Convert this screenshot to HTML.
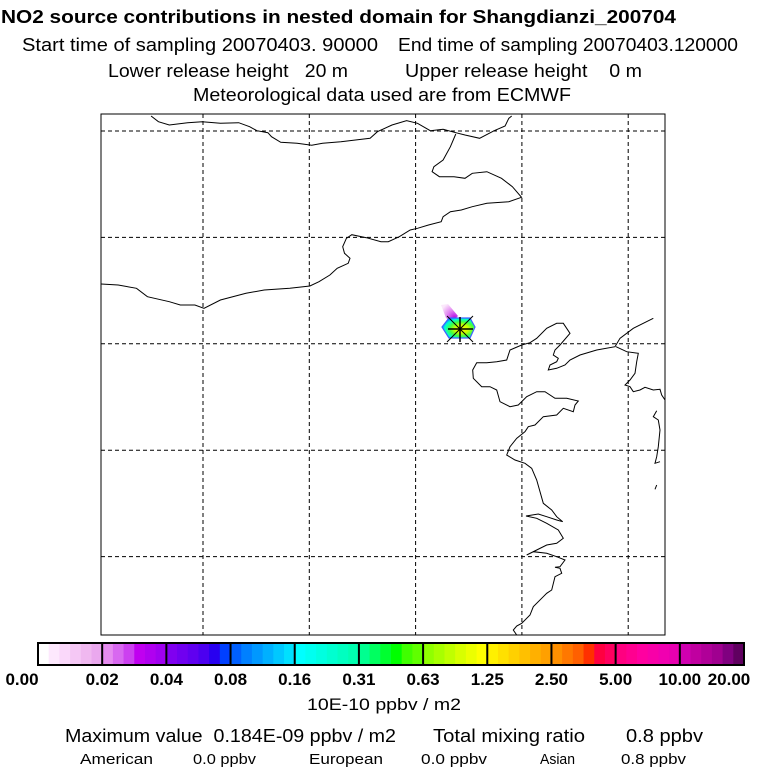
<!DOCTYPE html>
<html><head><meta charset="utf-8"><style>
html,body{margin:0;padding:0;background:#fff;}
svg{display:block;font-family:"Liberation Sans",Arial,sans-serif;}
</style></head><body>
<svg id="chart" width="768" height="768" viewBox="0 0 768 768" xmlns="http://www.w3.org/2000/svg">
<g font-size="18">
<text x="1" y="23" font-weight="bold" textLength="675" lengthAdjust="spacingAndGlyphs">NO2 source contributions in nested domain for Shangdianzi_200704</text>
<text x="22" y="51" textLength="356" lengthAdjust="spacingAndGlyphs">Start time of sampling 20070403. 90000</text>
<text x="398" y="51" textLength="340" lengthAdjust="spacingAndGlyphs">End time of sampling 20070403.120000</text>
<text x="108" y="77" textLength="240" lengthAdjust="spacingAndGlyphs">Lower release height&#160;&#160; 20 m</text>
<text x="405" y="77" textLength="237" lengthAdjust="spacingAndGlyphs">Upper release height&#160;&#160;&#160; 0 m</text>
<text x="193" y="101" textLength="378" lengthAdjust="spacingAndGlyphs">Meteorological data used are from ECMWF</text>
</g>
<g id="map"></g>
<g id="cbar"></g>
<text x="307" y="710" font-size="17" textLength="154" lengthAdjust="spacingAndGlyphs">10E-10 ppbv / m2</text>
<g font-size="18">
<text x="65" y="742" textLength="331" lengthAdjust="spacingAndGlyphs">Maximum value&#160; 0.184E-09 ppbv / m2</text>
<text x="433" y="742" textLength="152" lengthAdjust="spacingAndGlyphs">Total mixing ratio</text>
<text x="626" y="742" textLength="77" lengthAdjust="spacingAndGlyphs">0.8 ppbv</text>
</g>
<g font-size="15">
<text x="80" y="764" textLength="73" lengthAdjust="spacingAndGlyphs">American</text>
<text x="193" y="764" textLength="63" lengthAdjust="spacingAndGlyphs">0.0 ppbv</text>
<text x="309" y="764" textLength="74" lengthAdjust="spacingAndGlyphs">European</text>
<text x="421" y="764" textLength="66" lengthAdjust="spacingAndGlyphs">0.0 ppbv</text>
<text x="540" y="764" textLength="35" lengthAdjust="spacingAndGlyphs">Asian</text>
<text x="621" y="764" textLength="65" lengthAdjust="spacingAndGlyphs">0.8 ppbv</text>
</g>
</svg>
<script>
const tickLabels=["0.00","0.02","0.04","0.08","0.16","0.31","0.63","1.25","2.50","5.00","10.00","20.00"];
const segColors=[
["#ffffff","#fde8fd","#fad8fa","#f5c8f5","#f0b8f0","#eaa8ee"],
["#e68cf0","#d868f0","#cc40f0","#c000f0","#b000f0","#a000f0"],
["#8000f0","#7000f0","#6000f0","#4c00f0","#2800f0","#0040ff"],
["#0060ff","#0080ff","#0098ff","#00b0ff","#00c8ff","#00e0ff"],
["#00ffff","#00fff0","#00ffe0","#00ffd0","#00ffc0","#00ffb0"],
["#00ff90","#00ff60","#00ff30","#00ff00","#40ff00","#60ff00"],
["#90ff00","#a8ff00","#c0ff00","#d8ff00","#ecff00","#ffff00"],
["#fff000","#ffe000","#ffd000","#ffc000","#ffb000","#ffa000"],
["#ff9000","#ff7800","#ff6000","#ff3000","#ff0040","#ff0060"],
["#ff0080","#ff0090","#ff00a0","#f800a8","#f000b0","#e800b0"],
["#d000b0","#c000a0","#b00098","#a00090","#800080","#600060"]];
const gridLon=[0,1,2,3,4];
const gridLat=[0,1,2,3,4];
const NS="http://www.w3.org/2000/svg";
function mk(tag,attrs,parent){const e=document.createElementNS(NS,tag);for(const k in attrs)e.setAttribute(k,attrs[k]);parent.appendChild(e);return e;}
const map=document.getElementById('map');
const X0=101,Y0=114,X1=665,Y1=635;
const gx=i=>203+i*106.3, gy=i=>131+i*106.4;
mk('rect',{x:X0,y:Y0,width:X1-X0,height:Y1-Y0,fill:'#fff'},map);
const defs=mk('defs',{},map);
const rg=mk('radialGradient',{id:'hexg',cx:'0.6',cy:'0.55',r:'0.6'},defs);
[["0","#ffff00"],["0.35","#c8ff00"],["0.6","#40ff40"],["0.85","#00ffd0"],["1","#00a0ff"]].forEach(s=>mk('stop',{offset:s[0],'stop-color':s[1]},rg));
const pg=mk('radialGradient',{id:'plg',cx:'0.8',cy:'0.8',r:'0.9'},defs);
[["0","#b000e0"],["0.5","#e080f0"],["1","#fbe8fb"]].forEach(s=>mk('stop',{offset:s[0],'stop-color':s[1]},pg));
let el=mk('polygon',{points:'441,305 448,304 458,316 452,322 446,318',fill:'url(#plg)'},map);

el=mk('polygon',{points:'442,327 449,318 470,318 475,327 470,338 449,338',fill:'url(#hexg)',stroke:'#4060ff','stroke-width':'1.2'},map);

gridLon.forEach(i=>{const l=mk('line',{x1:gx(i),y1:Y0,x2:gx(i),y2:Y1,stroke:'#000','stroke-width':1,'stroke-dasharray':'4,3'},map);
});
gridLat.forEach(i=>{const l=mk('line',{x1:X0,y1:gy(i),x2:X1,y2:gy(i),stroke:'#000','stroke-width':1,'stroke-dasharray':'4,3'},map);
});
const c4=[
[[140,18],[160,35],[190,45],[240,38],[280,35],[330,40],[380,38],[410,50],[430,62],[460,68],[470,80],[495,97],[540,100],[580,106],[610,100],[660,95],[700,90],[740,85],[760,65],[800,45],[840,32],[870,40],[905,62],[940,58],[975,68],[1000,75],[1040,85],[1080,62],[1110,48],[1120,25],[1128,18]],
[[975,72],[960,110],[940,150],[915,170],[910,185],[930,200],[970,200],[1000,205],[1020,190],[1060,185],[1100,205],[1130,230],[1155,262],[1120,275],[1060,280],[1020,290],[990,300],[960,305],[940,320],[935,335],[900,345],[870,355],[850,360],[820,380],[790,395],[770,395],[730,383],[690,374],[675,385],[665,410],[670,430],[685,445],[680,460],[650,475],[630,495],[600,515],[575,528],[520,535],[450,540],[400,550],[330,570],[285,595],[260,585],[220,585],[190,575],[130,560],[100,535],[50,525],[3,522]]];
const c5=[
[[800,55],[760,85],[700,115],[660,145],[645,170],[590,180],[540,195],[510,210],[495,225],[470,235],[445,240],[450,225],[470,215],[475,205],[460,195],[465,180],[480,165],[510,130],[490,100],[470,100],[440,115],[410,145],[390,158],[365,165],[330,180],[320,210],[290,215],[260,218],[230,218],[218,240],[220,265],[245,290],[270,290],[290,300],[300,335],[330,350],[355,345],[380,320],[410,305],[435,305],[465,325],[500,325],[535,333],[525,345],[520,365],[490,355],[470,375],[430,380],[405,405],[385,410],[375,425],[350,445],[330,470],[320,495],[345,510],[375,520],[395,535],[410,570],[430,640],[455,660],[470,680],[488,695],[470,690],[440,680],[415,672],[378,678],[410,685],[440,700],[475,720],[490,745],[470,760],[440,765],[410,780],[380,795],[400,785],[440,790],[470,800],[495,810],[480,830],[465,832],[480,835],[485,850],[465,860],[455,900],[440,910],[430,920],[400,950],[390,975],[365,1000],[350,1008],[340,1020],[350,1035]],
[[648,170],[680,185],[715,190],[710,215],[705,250],[690,270],[675,285],[690,290],[700,305],[720,300],[735,292],[760,300],[780,298],[785,315],[795,330]],
[[800,360],[770,362],[760,380],[775,390],[780,420],[775,470],[770,500],[765,520],[780,515],[800,510]],
[[800,580],[770,585],[765,598],[800,598]]];
function poly(pts){const p=mk('polyline',{points:pts.map(q=>q.join(',')).join(' '),fill:'none',stroke:'#000','stroke-width':1},map);
}
c4.forEach(s=>poly(s.map(([a,b])=>[(100+a/2.74).toFixed(1),(110+b/3).toFixed(1)])));
c5.forEach(s=>poly(s.map(([a,b])=>[(400+a/3).toFixed(1),(290+b/3).toFixed(1)]).filter(q=>q[0]<=X1)));
const sx=460,sy=329;
const star=mk('g',{stroke:'#000','stroke-width':1.5},map);

mk('line',{x1:sx-12,y1:sy,x2:sx+13,y2:sy},star);
mk('line',{x1:sx,y1:sy-12,x2:sx,y2:sy+13},star);
mk('line',{x1:sx-13,y1:sy-13,x2:sx+13,y2:sy+13,'stroke-width':1},star);
mk('line',{x1:sx+13,y1:sy-13,x2:sx-13,y2:sy+13,'stroke-width':1},star);
mk('rect',{x:X0,y:Y0,width:X1-X0,height:Y1-Y0,fill:'none',stroke:'#000','stroke-width':1},map);
const cb=document.getElementById('cbar');
const CX0=38,CX1=744,CY=643,CH=22;
const segW=(CX1-CX0)/segColors.length;
segColors.forEach((seg,i)=>seg.forEach((c,j)=>{
const r=mk('rect',{x:CX0+i*segW+j*segW/6,y:CY,width:segW/6+0.5,height:CH,fill:c},cb);
}));
for(let i=1;i<segColors.length;i++){mk('line',{x1:CX0+i*segW,y1:CY,x2:CX0+i*segW,y2:CY+CH,stroke:'#000','stroke-width':2},cb);}
mk('rect',{x:CX0,y:CY,width:CX1-CX0,height:CH,fill:'none',stroke:'#000','stroke-width':2},cb);
tickLabels.forEach((t,i)=>{let x=CX0+i*segW;if(i===0)x=22;if(i===tickLabels.length-1)x=729;
const tx=mk('text',{x:x,y:685,'font-size':17,'font-weight':'bold','text-anchor':'middle'},cb);tx.textContent=t;
});
</script>
</body></html>
